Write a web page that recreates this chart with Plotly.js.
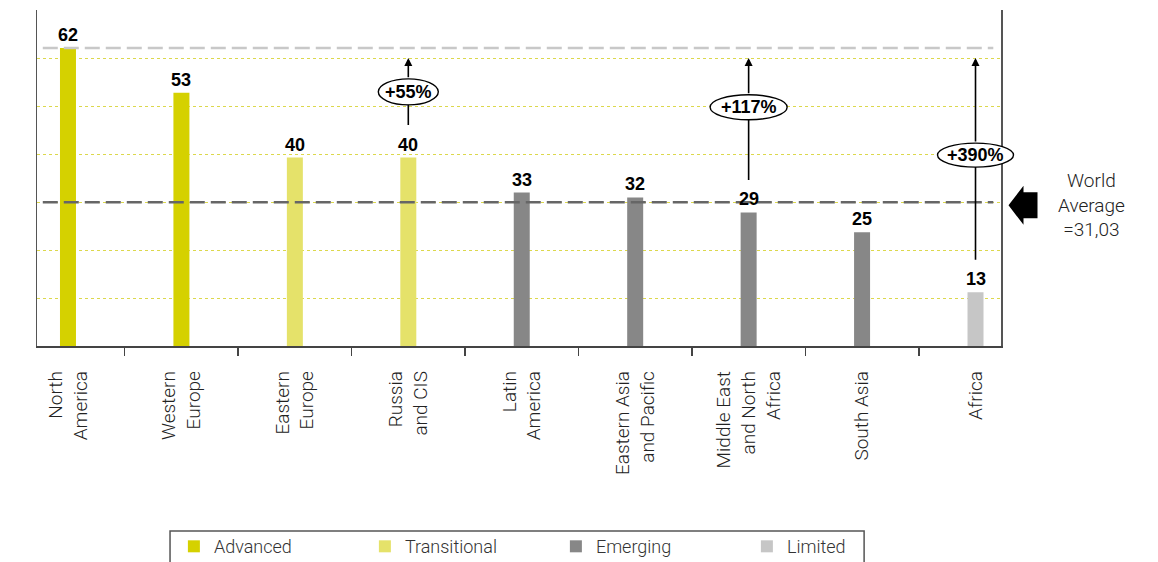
<!DOCTYPE html>
<html>
<head>
<meta charset="utf-8">
<script src="https://cdn.plot.ly/plotly-3.0.1.min.js"></script>
<style>
  html, body { margin: 0; padding: 0; background: #ffffff; }
  #chart { width: 1158px; height: 562px; }
</style>
</head>
<body>
<div id="chart"></div>
<script>
// Regions and their scores
const categories = [
  'North<br>America', 'Western<br>Europe', 'Eastern<br>Europe', 'Russia<br>and CIS',
  'Latin<br>America', 'Eastern Asia<br>and Pacific', 'Middle East<br>and North<br>Africa',
  'South Asia', 'Africa'
];
const scores = [62, 53, 40, 40, 33, 32, 29, 25, 13];
const regionGroup = ['Advanced', 'Advanced', 'Transitional', 'Transitional',
  'Emerging', 'Emerging', 'Emerging', 'Emerging', 'Limited'];
const groupNames = ['Advanced', 'Transitional', 'Emerging', 'Limited'];
const worldAverage = 31.03;

// Gap from selected regions up to the leading region
const gapRegions = ['Russia<br>and CIS', 'Middle East<br>and North<br>Africa', 'Africa'];
const gapLabels = ['+55%', '+117%', '+390%'];

// ---- styling ----
const groupColors = { Advanced: '#d5d100', Transitional: '#e5e26a', Emerging: '#878787', Limited: '#c6c6c6' };
const lightFont = 'Roboto, "Liberation Sans", sans-serif';
const boldFont = '"Liberation Sans", Arial, sans-serif';
const xRange = [-0.2731, 8.2247];
const yRange = [2.2, 69.62];
const badgeLevel = [53.2, 50.1, 40.5];      // vertical centre of each percentage badge
const badgeSize = [[60, 26], [77, 25], [76, 24]];

const topScore = Math.max(...scores);
const xFrac = idx => (idx - xRange[0]) / (xRange[1] - xRange[0]);

const traces = groupNames.map(g => {
  const xs = [], ys = [];
  categories.forEach((c, i) => { if (regionGroup[i] === g) { xs.push(c); ys.push(scores[i]); } });
  return {
    type: 'bar', name: g, x: xs, y: ys, width: 0.141,
    marker: { color: groupColors[g] },
    hoverinfo: 'x+y'
  };
});

const annotations = [];
const shapes = [];

// value labels above bars
categories.forEach((c, i) => {
  annotations.push({
    x: c, y: scores[i], xref: 'x', yref: 'y', text: String(scores[i]),
    showarrow: false, yanchor: 'bottom', yshift: 1,
    font: { family: boldFont, size: 18, color: '#000', weight: 700 }
  });
});

// reference lines: leader level and world average
const dashStyle = '15px,6px';
shapes.push({ type: 'line', xref: 'paper', yref: 'y', x0: 0.006, x1: 0.992, y0: topScore, y1: topScore,
  line: { color: '#c8c8c8', width: 2.5, dash: dashStyle }, layer: 'above' });
shapes.push({ type: 'line', xref: 'paper', yref: 'y', x0: 0.006, x1: 0.992, y0: worldAverage, y1: worldAverage,
  line: { color: '#666666', width: 2.5, dash: dashStyle }, layer: 'above' });

// gap arrows with oval badges
gapRegions.forEach((c, k) => {
  const i = categories.indexOf(c);
  const [bw, bh] = badgeSize[k];
  // lower stem: from above the value label to the badge
  annotations.push({
    x: c, y: badgeLevel[k], xref: 'x', yref: 'y', ax: 0, ay: scores[i], ayref: 'y',
    showarrow: true, arrowhead: 0, arrowwidth: 1.6, arrowcolor: '#000',
    standoff: bh / 2, startstandoff: 31, text: ''
  });
  // upper stem with arrow head, pointing at the leader level
  annotations.push({
    x: c, y: topScore, xref: 'x', yref: 'y', ax: 0, ay: badgeLevel[k], ayref: 'y',
    showarrow: true, arrowhead: 2, arrowsize: 1, arrowwidth: 1.6, arrowcolor: '#000',
    standoff: 10, startstandoff: bh / 2, text: ''
  });
  // badge is positioned along the paper so it may overhang the plot edge
  shapes.push({
    type: 'circle', xref: 'paper', yref: 'y', xsizemode: 'pixel', ysizemode: 'pixel',
    xanchor: xFrac(i), yanchor: badgeLevel[k], x0: -bw / 2, x1: bw / 2, y0: -bh / 2, y1: bh / 2,
    fillcolor: '#ffffff', line: { color: '#000', width: 1.4 }, layer: 'above'
  });
  annotations.push({
    x: c, y: badgeLevel[k], xref: 'x', yref: 'y', text: gapLabels[k], showarrow: false,
    font: { family: boldFont, size: 18, color: '#000', weight: 700 }
  });
});

// world average marker on the right
const avgFrac = (worldAverage - yRange[0]) / (yRange[1] - yRange[0]);
shapes.push({
  type: 'path', xref: 'paper', yref: 'paper', xsizemode: 'pixel', ysizemode: 'pixel',
  xanchor: 1, yanchor: avgFrac,
  path: 'M 7.5 -3 L 22.5 16.5 L 22.5 10 L 36.5 10 L 36.5 -16 L 22.5 -16 L 22.5 -22.5 Z',
  fillcolor: '#000', line: { width: 0 }
});
annotations.push({
  xref: 'paper', yref: 'paper', x: 1.0934, y: avgFrac, xanchor: 'center', yanchor: 'middle',
  yshift: -3, align: 'center', showarrow: false,
  text: 'World<br>Average<br>=' + worldAverage.toFixed(2).replace('.', ','),
  font: { family: lightFont, size: 19, color: '#222', weight: 300 }
});

// legend frame
shapes.push({
  type: 'rect', xref: 'paper', yref: 'paper', x0: 0.138, x1: 0.858, y0: -0.5506, y1: -0.75,
  line: { color: '#555', width: 1.5 }, fillcolor: 'rgba(0,0,0,0)'
});

const layout = {
  width: 1158, height: 562,
  margin: { l: 37, r: 157, t: 10, b: 216, autoexpand: false },
  paper_bgcolor: '#ffffff', plot_bgcolor: '#ffffff',
  barmode: 'overlay',
  showlegend: true,
  legend: {
    orientation: 'h', x: 0.142, y: -0.542, xanchor: 'left', yanchor: 'top',
    entrywidth: 146, entrywidthmode: 'pixels', borderwidth: 0, bgcolor: 'rgba(0,0,0,0)',
    font: { family: lightFont, size: 18, color: '#333', weight: 300 }
  },
  xaxis: {
    type: 'category', categoryorder: 'array', categoryarray: categories,
    range: xRange, fixedrange: true,
    showline: true, linecolor: '#444', linewidth: 1.5, mirror: false,
    ticks: 'outside', tickson: 'boundaries', ticklen: 8, tickwidth: 1.5, tickcolor: '#444',
    tickangle: -90, ticklabelstandoff: 16, showgrid: false,
    tickfont: { family: lightFont, size: 19, color: '#222', weight: 300 }
  },
  yaxis: {
    range: yRange, fixedrange: true, showticklabels: false, ticks: '',
    tickmode: 'linear', tick0: 11.83, dtick: 9.627,
    showgrid: true, gridcolor: '#dcd84c', griddash: 'dot', gridwidth: 1,
    zeroline: false, showline: true, linecolor: '#555', linewidth: 1.5, mirror: true
  },
  annotations: annotations,
  shapes: shapes
};

Plotly.newPlot('chart', traces, layout, { staticPlot: true, displayModeBar: false });
</script>
</body>
</html>
